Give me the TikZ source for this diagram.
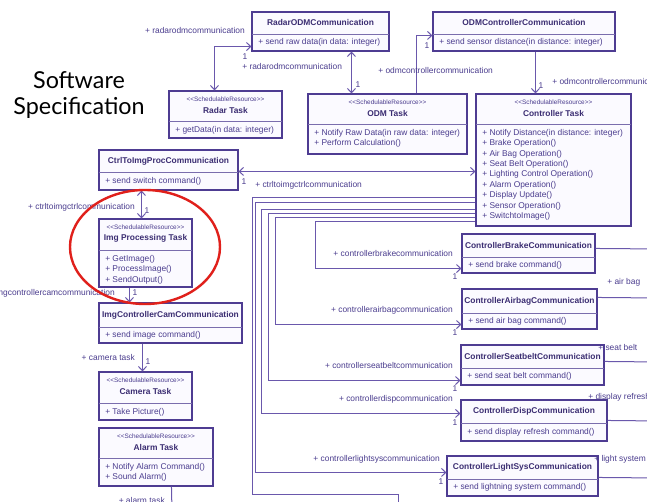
\documentclass[tikz,border=0pt]{standalone}
\usepackage{fontspec}
\setmainfont{Liberation Sans}
\newfontfamily\headfont{Lato}
\usetikzlibrary{arrows.meta,calc,fit,shadows}

\definecolor{umlline}{HTML}{6A58AC}
\definecolor{umlborder}{HTML}{4E3C92}
\definecolor{umltitle}{HTML}{3B2D72}
\definecolor{umlop}{HTML}{4A3C8E}
\definecolor{umlfill}{HTML}{FBFAFF}
\definecolor{umlshadow}{HTML}{8F85B5}
\definecolor{marker}{HTML}{E0201B}

\tikzset{
  classbody/.style={draw=umlborder, fill=umlfill, line width=0.8pt, inner sep=0pt,
    drop shadow={shadow xshift=1.1pt, shadow yshift=-1.1pt, fill=umlshadow, opacity=1}},
  divider/.style={draw=umlborder!75, line width=0.6pt},
  ctitle/.style={font=\fontsize{6.3}{7.5}\selectfont\bfseries, text=umltitle, inner sep=0pt},
  stereo/.style={font=\fontsize{4.8}{6}\selectfont, text=umlop, inner sep=0pt},
  optext/.style={font=\fontsize{6.3}{7.8}\selectfont, text=umlop, inner sep=0pt,
    anchor=north west, align=left},
  lbl/.style={font=\fontsize{6.3}{7.5}\selectfont, text=umlop, inner sep=0pt},
  assoc/.style={draw=umlline, line width=0.75pt},
  barb/.tip={Straight Barb[length=3.2pt, width=6pt]},
  biarrow/.style={assoc, barb-barb},
  uniarrow/.style={assoc, -barb},
}

% communication class: name, x1, y1, x2, y2, divider y, title, operation
\newcommand\commclass[8]{%
  \node[classbody, fit={(#2,#3) (#4,#5)}] (#1) {};
  \draw[divider] (#2,#6) -- (#4,#6);
  \node[ctitle] (#1-t) at ({(#2+#4)/2},{(#3+#6)/2}) {#7};
  \node[optext, anchor=west] (#1-o) at ({#2+6},{(#6+#5)/2}) {#8};
}
% schedulable task class: name, x1, y1, x2, y2, divider y, title, operations
\newcommand\taskclass[8]{%
  \node[classbody, fit={(#2,#3) (#4,#5)}] (#1) {};
  \draw[divider] (#2,#6) -- (#4,#6);
  \node[stereo] (#1-s) at ({(#2+#4)/2},{#3+8.5}) {<{}<SchedulableResource>{}>};
  \node[ctitle] (#1-t) at ({(#2+#4)/2},{#3+19.5}) {#7};
  \node[optext] (#1-o) at ({#2+6},{#6+5}) {#8};
}

\begin{document}
\begin{tikzpicture}[x=0.75pt, y=-0.75pt]
\fill[white] (0,0) rectangle (647,502);
\useasboundingbox (0,0) rectangle (647,502);

% heading
\node[font=\headfont\fontsize{17.5}{20}\selectfont, align=center, inner sep=0pt]
  (heading) at (79,95) {Software\\Specification};

% classes
\commclass{radarcomm}{252}{12}{389}{51}{34}{RadarODMCommunication}{+ send raw data(in data: integer)}
\commclass{odmcomm}{433}{12}{615}{51}{34}{ODMControllerCommunication}{+ send sensor distance(in distance: integer)}
\taskclass{radartask}{169}{91}{282}{138}{121}{Radar Task}{+ getData(in data: integer)}
\taskclass{odmtask}{308}{94}{467}{154}{124}{ODM Task}{+ Notify Raw Data(in raw data: integer)\\+ Perform Calculation()}
\taskclass{ctrltask}{476}{94}{631}{226}{124}{Controller Task}{+ Notify Distance(in distance: integer)\\+ Brake Operation()\\+ Air Bag Operation()\\+ Seat Belt Operation()\\+ Lighting Control Operation()\\+ Alarm Operation()\\+ Display Update()\\+ Sensor Operation()\\+ SwitchtoImage()}
\commclass{ctrlimg}{99}{150}{238}{190}{172}{CtrlToImgProcCommunication}{+ send switch command()}
\taskclass{imgtask}{99}{219}{192}{287}{250}{Img Processing Task}{+ GetImage()\\+ ProcessImage()\\+ SendOutput()}
\commclass{imgcam}{99}{303}{242}{343}{327}{ImgControllerCamCommunication}{+ send image command()}
\taskclass{camtask}{99}{372}{192}{420}{403}{Camera Task}{+ Take Picture()}
\taskclass{alarmtask}{99}{428}{213}{486}{458}{Alarm Task}{+ Notify Alarm Command()\\+ Sound Alarm()}
\commclass{brake}{462}{234}{595}{273}{257}{ControllerBrakeCommunication}{+ send brake command()}
\commclass{airbag}{462}{289}{597}{329}{313}{ControllerAirbagCommunication}{+ send air bag command()}
\commclass{seatbelt}{461}{345}{604}{385}{368}{ControllerSeatbeltCommunication}{+ send seat belt command()}
\commclass{disp}{461}{400}{607}{441}{423}{ControllerDispCommunication}{+ send display refresh command()}
\commclass{light}{447}{456}{598}{496}{479}{ControllerLightSysCommunication}{+ send lightning system command()}

% free ends of connectors that leave the sheet
\coordinate (alarmout) at (172,512);
\coordinate (ctrlalarmout) at (398,512);
\coordinate (brakeout) at (660,249);
\coordinate (airbagout) at (660,298);
\coordinate (seatbeltout) at (660,362);
\coordinate (dispout) at (660,421);
\coordinate (lightout) at (660,478);

% associations between the upper classes
\draw[biarrow] ($(radarcomm.south west)+(0,-5)$) -| ($(radartask.north west)+(46,0)$);
\node[lbl, anchor=east] (l1) at (245,31) {+ radarodmcommunication};
\node[lbl] (m1) at (245,57) {1};

\draw[biarrow] ($(radarcomm.south west)+(100,0)$) -- ($(odmtask.north west)+(44,0)$);
\node[lbl, anchor=west] (l2) at (242,67) {+ radarodmcommunication};
\node[lbl] (m2) at (358,85) {1};

\draw[uniarrow] ($(odmtask.north west)+(109,0)$) |- ($(odmcomm.north west)+(0,24)$);
\node[lbl, anchor=west] (l3) at (378,71) {+ odmcontrollercommunication};
\node[lbl] (m3) at (427,46) {1};

\draw[uniarrow] ($(odmcomm.south west)+(103,0)$) -- ($(ctrltask.north west)+(60,0)$);
\node[lbl, anchor=west] (l4) at (552,82) {+ odmcontrollercommunication};
\node[lbl] (m4) at (541,86) {1};

\draw[biarrow] ($(ctrltask.north west)+(0,78)$) -- ($(ctrlimg.north east)+(0,22)$);
\node[lbl, anchor=west] (l5) at (255,185) {+ ctrltoimgctrlcommunication};
\node[lbl] (m5) at (244,182) {1};

% left column
\draw[biarrow] ($(ctrlimg.south west)+(43,0)$) -- ($(imgtask.north west)+(43,0)$);
\node[lbl, anchor=east] (l6) at (135,207) {+ ctrltoimgctrlcommunication};
\node[lbl] (m6) at (147,211) {1};

\draw[uniarrow] ($(imgtask.south west)+(31,0)$) -- ($(imgcam.north west)+(31,0)$);
\node[lbl, anchor=east] (l7) at (115,293) {+ imgcontrollercamcommunication};
\node[lbl] (m7) at (135,293) {1};

\draw[uniarrow] ($(imgcam.south west)+(44,0)$) -- ($(camtask.north west)+(44,0)$);
\node[lbl, anchor=east] (l8) at (135,357) {+ camera task};
\node[lbl] (m8) at (148,362) {1};

\draw[assoc] ($(alarmtask.south west)+(73,0)$) -- (alarmout);
\node[lbl, anchor=east] (l9) at (165,500) {+ alarm task};

% controller task to its communication classes
\draw[assoc] ($(ctrltask.north west)+(0,104)$) -| (252,495) -| (ctrlalarmout);
\draw[uniarrow] ($(ctrltask.north west)+(0,109)$) -| ($(light.north west)+(-191,17)$) -- ($(light.north west)+(0,17)$);
\draw[uniarrow] ($(ctrltask.north west)+(0,116)$) -| ($(disp.north west)+(-199,14)$) -- ($(disp.north west)+(0,14)$);
\draw[uniarrow] ($(ctrltask.north west)+(0,120)$) -| ($(seatbelt.south west)+(-192,-5)$) -- ($(seatbelt.south west)+(0,-5)$);
\draw[uniarrow] ($(ctrltask.north west)+(0,124)$) -| ($(airbag.south west)+(-186,-5)$) -- ($(airbag.south west)+(0,-5)$);
\draw[uniarrow] ($(ctrltask.north west)+(0,128)$) -| ($(brake.south west)+(-146,-5)$) -- ($(brake.south west)+(0,-5)$);

\node[lbl, anchor=east] (l10) at (453,253) {+ controllerbrakecommunication};
\node[lbl] (m10) at (455,277) {1};
\node[lbl, anchor=east] (l11) at (453,310) {+ controllerairbagcommunication};
\node[lbl] (m11) at (455,333) {1};
\node[lbl, anchor=east] (l12) at (453,365) {+ controllerseatbeltcommunication};
\node[lbl] (m12) at (455,389) {1};
\node[lbl, anchor=east] (l13) at (453,399) {+ controllerdispcommunication};
\node[lbl] (m13) at (455,423) {1};
\node[lbl, anchor=east] (l14) at (440,459) {+ controllerlightsyscommunication};
\node[lbl] (m14) at (441,482) {1};

% connectors leaving the sheet on the right
\draw[assoc] ($(brake.north east)+(0,15)$) -- (brakeout);
\draw[assoc] ($(airbag.north east)+(0,9)$) -- (airbagout);
\node[lbl, anchor=west] (l15) at (607,282) {+ air bag};
\draw[assoc] ($(seatbelt.north east)+(0,17)$) -- (seatbeltout);
\node[lbl, anchor=west] (l16) at (598,347) {+ seat belt};
\draw[assoc] ($(disp.north east)+(0,21)$) -- (dispout);
\node[lbl, anchor=west] (l17) at (588,397) {+ display refresh};
\draw[assoc] ($(light.north east)+(0,22)$) -- (lightout);
\node[lbl, anchor=west] (l18) at (594,459) {+ light system};

% highlight ring
\draw[marker, line width=1.8pt] (145,247) ellipse [x radius=75, y radius=57];
\end{tikzpicture}
\end{document}
